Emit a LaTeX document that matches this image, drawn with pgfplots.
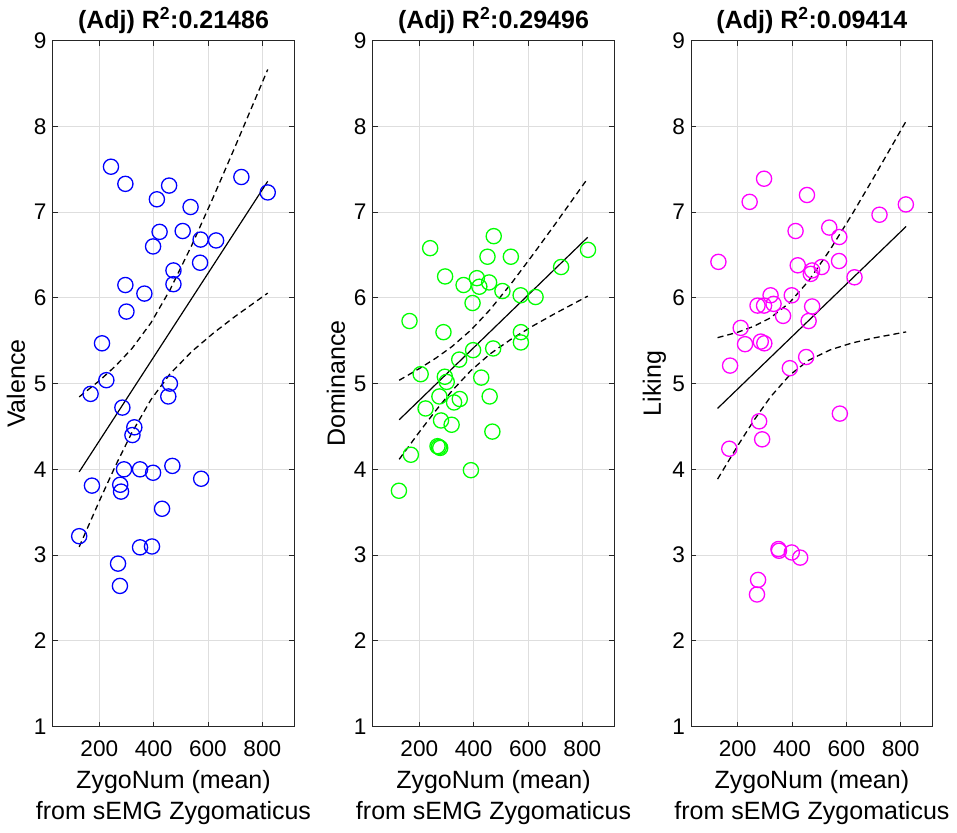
\documentclass[border=0pt]{standalone}
\usepackage{pgfplots}
\pgfplotsset{compat=1.18}
\usepackage{fontspec}
\setmainfont{Liberation Sans}
\definecolor{axcol}{RGB}{38,38,38}
\definecolor{gridcol}{RGB}{222,222,222}
\definecolor{mblue}{RGB}{0,0,255}
\definecolor{mgreen}{RGB}{0,255,0}
\definecolor{mmag}{RGB}{255,0,255}
\pgfplotsset{
  myax/.style={
    anchor=south west, scale only axis,
    width=241.6pt, height=685.8pt,
    xmin=28.5, xmax=917.8, ymin=1, ymax=9,
    xtick={200,400,600,800}, ytick={1,2,3,4,5,6,7,8,9},
    /pgf/number format/assume math mode=true,
    grid=major,
    major grid style={color=gridcol, line width=0.9pt},
    tick align=inside, major tick length=5pt,
    tick style={color=axcol, line width=0.9pt},
    axis line style={color=axcol, line width=0.9pt},
    tick label style={font=\fontsize{22.6}{26}\selectfont, color=black},
    xticklabel style={inner sep=0pt, yshift=-14.5pt},
    yticklabel style={inner sep=0pt, xshift=-6pt},
    label style={font=\fontsize{25}{31}\selectfont},
    xlabel style={at={(axis description cs:0.5,0)}, anchor=north, yshift=-44pt, inner sep=0pt, align=center},
    ylabel style={at={(axis description cs:-0.152,0.5)}, anchor=center, inner sep=0pt},
    title style={at={(axis description cs:0.5,1)}, anchor=base, yshift=6pt, inner sep=0pt, font=\fontsize{25}{30}\selectfont\bfseries},
    xlabel={ZygoNum (mean)\\from sEMG Zygomaticus},
  },
  pts/.style={only marks, mark=o, mark size=7.6pt, mark options={line width=1.3pt}},
  fitl/.style={black, line width=1.2pt, no marks},
  cil/.style={black, line width=1.3pt, no marks, dash pattern=on 6pt off 4pt},
}
\begin{document}
\begin{tikzpicture}
\useasboundingbox (0,0) rectangle (957pt,832pt);
% ---------------- Panel 1: Valence
\begin{axis}[myax, at={(52.7pt,105.5pt)}, ylabel={Valence},
  title={(Adj) R\textsuperscript{2}:0.21486}]
\addplot[pts, mblue] coordinates {
(243,7.53) (296,7.33) (412,7.15) (457,7.31) (536,7.06) (723,7.41) (820,7.23)
(422,6.77) (507,6.78) (398,6.60) (573,6.68) (630,6.67) (571,6.41) (473,6.32)
(473,6.16) (296,6.15) (366,6.05) (300,5.84) (210,5.47) (226,5.04) (460,5.00)
(454,4.85) (168,4.88) (285,4.72) (329,4.49) (322,4.40) (291,4.00) (350,4.00)
(398,3.96) (469,4.04) (575,3.89) (173,3.81) (277,3.82) (280,3.74) (431,3.54)
(126,3.22) (350,3.09) (394,3.10) (269,2.90) (276,2.64)};
\addplot[fitl] coordinates {(126,3.970) (820,7.360)};
\addplot[cil] coordinates {(126,4.845) (200,5.033) (260,5.206) (320,5.408) (390,5.708) (460,6.092) (540,6.611) (620,7.177) (700,7.764) (820,8.664)};
\addplot[cil] coordinates {(126,3.095) (200,3.629) (260,4.044) (320,4.428) (390,4.812) (460,5.112) (540,5.373) (620,5.589) (700,5.784) (820,6.056)};
\end{axis}
% ---------------- Panel 2: Dominance
\begin{axis}[myax, at={(372.7pt,105.5pt)}, ylabel={Dominance},
  title={(Adj) R\textsuperscript{2}:0.29496}]
\addplot[pts, mgreen] coordinates {
(474,6.72) (240,6.58) (451,6.48) (537,6.48) (295,6.25) (722,6.36) (821,6.56)
(363,6.15) (412,6.23) (421,6.13) (457,6.18) (506,6.08) (573,6.03) (628,6.01)
(396,5.94) (164,5.73) (289,5.60) (574,5.60) (574,5.48) (398,5.39) (472,5.41)
(347,5.28) (205,5.11) (294,5.08) (301,5.02) (428,5.07) (274,4.85) (328,4.78)
(349,4.82) (459,4.85) (223,4.71) (280,4.57) (319,4.52) (469,4.44) (267,4.27)
(272,4.26) (277,4.25) (169,4.17) (390,3.99) (125,3.75)};
\addplot[fitl] coordinates {(126,4.578) (820,6.707)};
\addplot[cil] coordinates {(126,5.039) (200,5.175) (260,5.295) (320,5.431) (390,5.624) (460,5.861) (540,6.174) (620,6.512) (700,6.860) (820,7.394)};
\addplot[cil] coordinates {(126,4.117) (200,4.435) (260,4.683) (320,4.915) (390,5.152) (460,5.345) (540,5.522) (620,5.676) (700,5.818) (820,6.020)};
\end{axis}
% ---------------- Panel 3: Liking
\begin{axis}[myax, at={(691.1pt,105.5pt)}, ylabel={Liking},
  title={(Adj) R\textsuperscript{2}:0.09414}]
\addplot[pts, mmag] coordinates {
(297,7.39) (244,7.12) (455,7.20) (819,7.09) (722,6.97) (413,6.78) (537,6.82)
(574,6.71) (129,6.42) (573,6.43) (421,6.38) (509,6.36) (474,6.32) (469,6.28)
(630,6.24) (321,6.03) (399,6.03) (273,5.91) (297,5.91) (332,5.93) (367,5.79)
(474,5.90) (461,5.73) (211,5.65) (227,5.46) (285,5.49) (298,5.47) (172,5.21)
(452,5.31) (392,5.18) (576,4.65) (279,4.56) (290,4.35) (169,4.24) (350,3.07)
(352,3.05) (399,3.03) (430,2.97) (275,2.71) (271,2.54)};
\addplot[fitl] coordinates {(126,4.711) (820,6.833)};
\addplot[cil] coordinates {(126,5.536) (200,5.599) (260,5.669) (320,5.766) (390,5.941) (460,6.194) (540,6.561) (620,6.969) (700,7.400) (820,8.063)};
\addplot[cil] coordinates {(126,3.886) (200,4.275) (260,4.573) (320,4.842) (390,5.095) (460,5.270) (540,5.393) (620,5.473) (700,5.532) (820,5.603)};
\end{axis}
\end{tikzpicture}
\end{document}
